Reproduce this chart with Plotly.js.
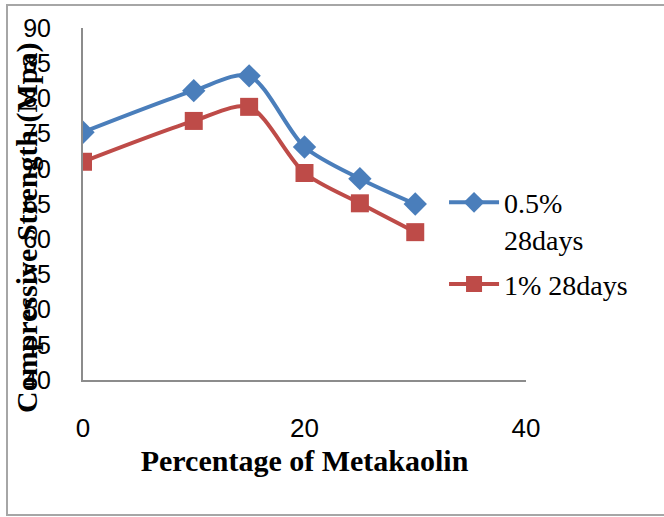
<!DOCTYPE html>
<html>
<head>
<meta charset="utf-8">
<script src="https://cdn.plot.ly/plotly-3.0.1.min.js"></script>
<style>
  html, body { margin: 0; padding: 0; background: #fff; }
  #chart { width: 664px; height: 517px; }
</style>
</head>
<body>
<div id="chart"></div>
<script>
// Metakaolin replacement level (%)
const metakaolin = [0, 10, 15, 20, 25, 30];
// Compressive strength (MPa) at 28 days
const strength05 = [75.2, 81.1, 83.2, 73.1, 68.6, 65.0];
const strength1 = [71.0, 76.8, 78.8, 69.4, 65.1, 61.0];
const seriesNames = ['0.5%<br>28days', '1% 28days'];
const yTicks = [40, 45, 50, 55, 60, 65, 70, 75, 80, 85, 90];
const xTicks = [0, 20, 40];

const blue = '#4A7EBB';
const red = '#BE4B48';
const serif = '"Liberation Serif", "Times New Roman", serif';
const sans = '"Liberation Sans", Arial, sans-serif';

const traces = [
  {
    x: metakaolin, y: strength05, name: seriesNames[0], legendgroup: 'a',
    type: 'scatter', mode: 'lines+markers',
    line: { color: blue, width: 4, shape: 'spline', smoothing: 0.8 },
    marker: { symbol: 'diamond', size: 18, color: blue }
  },
  {
    x: metakaolin, y: strength1, name: seriesNames[1], legendgroup: 'b',
    type: 'scatter', mode: 'lines+markers',
    line: { color: red, width: 4, shape: 'spline', smoothing: 0.8 },
    marker: { symbol: 'square', size: 18, color: red }
  }
];

const layout = {
  width: 664, height: 517,
  margin: { l: 83, r: 138, t: 28, b: 137 },
  paper_bgcolor: '#fff', plot_bgcolor: '#fff',
  showlegend: true,
  legend: {
    x: 0.815, xanchor: 'left', y: 0.575, yanchor: 'top',
    font: { family: serif, size: 28, color: '#000' },
    bgcolor: 'rgba(0,0,0,0)', traceorder: 'grouped', tracegroupgap: 6,
    itemwidth: 50, valign: 'top'
  },
  xaxis: {
    range: [0, 40], tickvals: xTicks, ticktext: xTicks.map(String),
    showgrid: false, zeroline: false, showline: true,
    linecolor: '#8c8c8c', linewidth: 2, ticks: '',
    ticklabelstandoff: 24,
    tickfont: { family: sans, size: 26, color: '#000' },
    title: { text: '<b>Percentage of Metakaolin</b>', font: { family: serif, size: 30, color: '#000' }, standoff: 8 },
    automargin: false, fixedrange: true
  },
  yaxis: {
    range: [40, 90], tickvals: yTicks, ticktext: yTicks.map(String),
    showgrid: false, zeroline: false, showline: true,
    linecolor: '#8c8c8c', linewidth: 2, ticks: '',
    ticklabelstandoff: 25,
    tickfont: { family: sans, size: 25, color: '#000' },
    automargin: false, fixedrange: true
  },
  annotations: [{
    text: '<b>Compressive Strength (Mpa)</b>',
    xref: 'paper', yref: 'paper',
    x: (27 - 83) / 443, y: (380 - 228) / 352,
    xanchor: 'center', yanchor: 'middle',
    textangle: -90, showarrow: false,
    font: { family: serif, size: 30, color: '#000' }
  }],
  shapes: [{
    type: 'rect', xref: 'paper', yref: 'paper', layer: 'below',
    x0: (7 - 83) / 443, x1: (672 - 83) / 443,
    y0: (380 - 515) / 352, y1: (380 - 5) / 352,
    line: { color: '#a6a6a6', width: 2 }, fillcolor: 'rgba(0,0,0,0)'
  }]
};

Plotly.newPlot('chart', traces, layout, { displayModeBar: false, staticPlot: true });
</script>
</body>
</html>
